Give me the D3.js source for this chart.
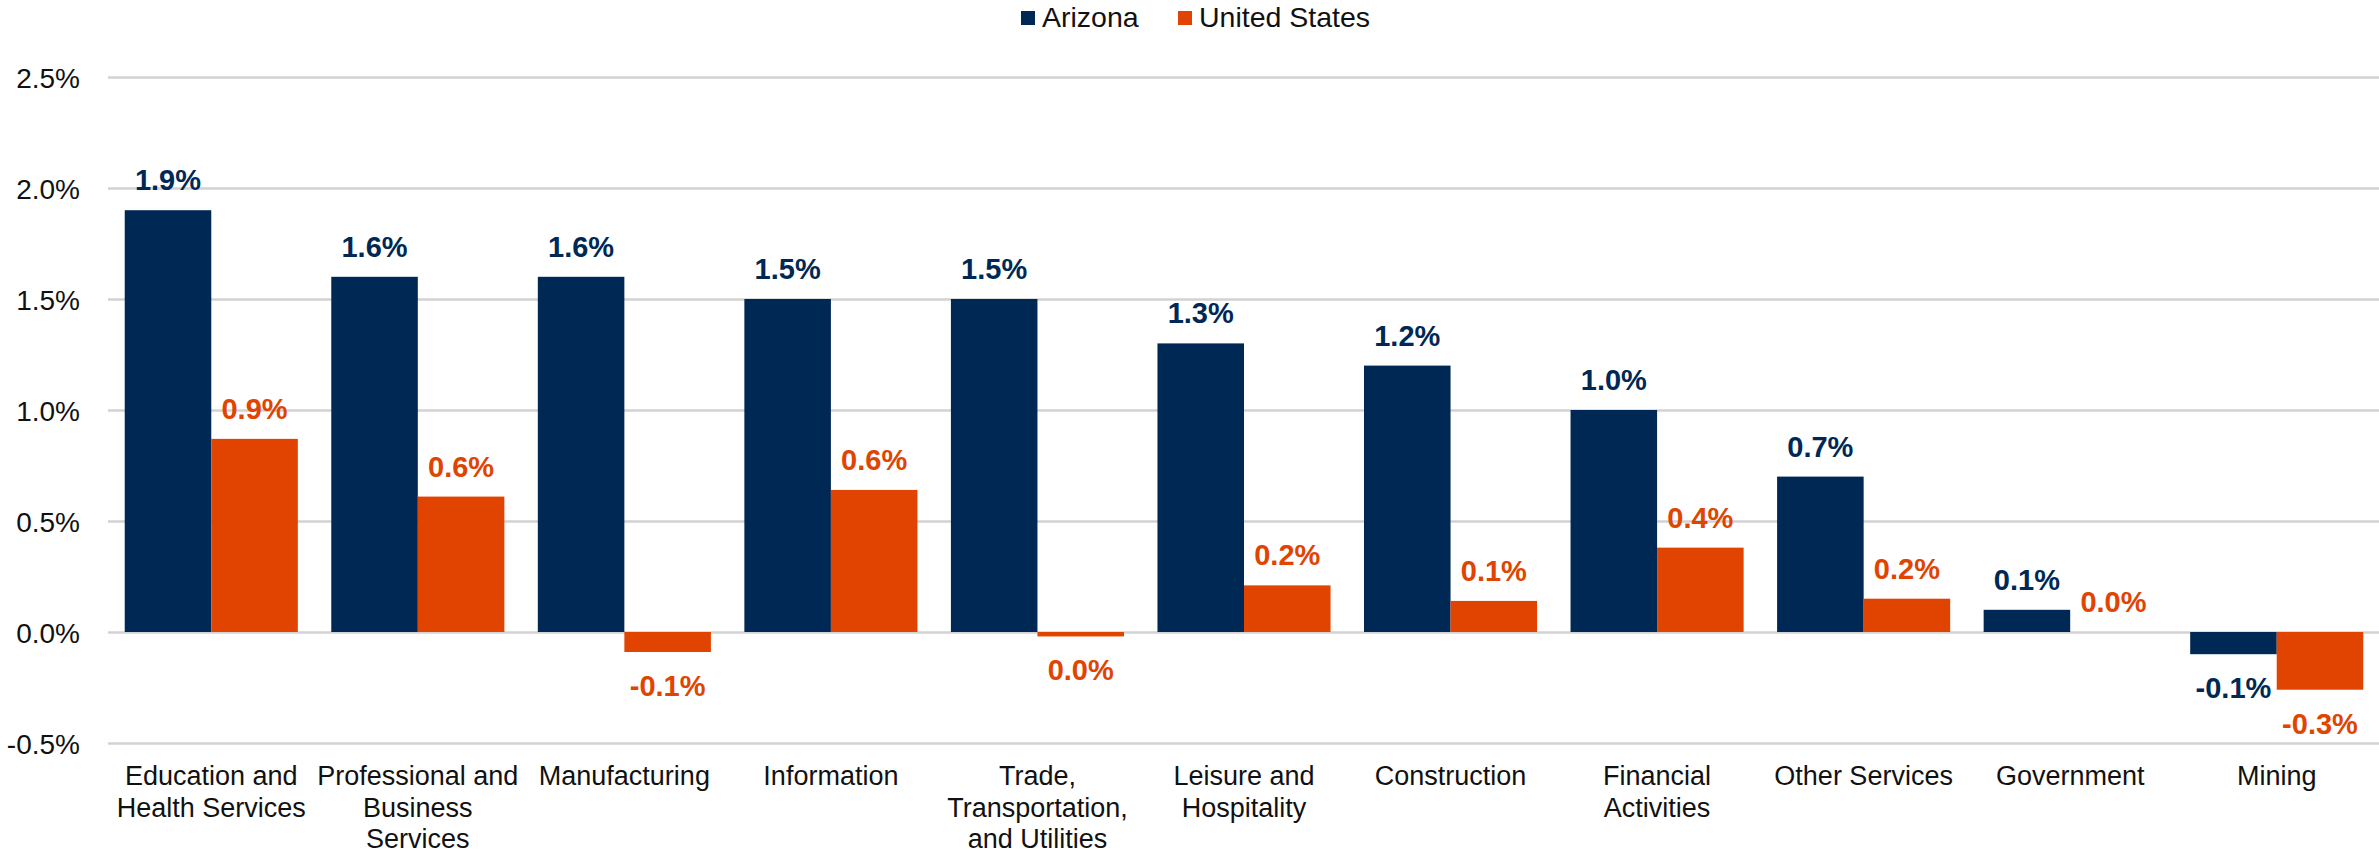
<!DOCTYPE html>
<html>
<head>
<meta charset="utf-8">
<script src="https://cdn.jsdelivr.net/npm/d3@7"></script>
<style>
  body { margin: 0; background: #fff; }
  svg { display: block; font-family: "Liberation Sans", Arial, sans-serif; }
</style>
</head>
<body>
<div id="chart-area"></div>
<script>
const WIDTH = 2379;
const HEIGHT = 850;

// data (percent change)
const categories = ["Education and Health Services", "Professional and Business Services", "Manufacturing",
  "Information", "Trade, Transportation, and Utilities", "Leisure and Hospitality", "Construction",
  "Financial Activities", "Other Services", "Government", "Mining"];
const arizona = [1.9, 1.6, 1.6, 1.5, 1.5, 1.3, 1.2, 1.0, 0.7, 0.1, -0.1];
const unitedStates = [0.87, 0.61, -0.09, 0.64, -0.02, 0.21, 0.14, 0.38, 0.15, 0.0, -0.26];
const seriesNames = ["Arizona", "United States"];
const colors = ["#002855", "#E04400"];
const yTicks = [-0.5, 0, 0.5, 1.0, 1.5, 2.0, 2.5];

const svg = d3.select("#chart-area").append("svg")
  .attr("width", WIDTH)
  .attr("height", HEIGHT);

const margin = {top: 77, right: 0, bottom: 107, left: 108};

// scales
const x = d3.scaleBand()
  .domain(categories)
  .range([margin.left, 2380])
  .paddingInner(0.162)
  .paddingOuter(0.081);

const x1 = d3.scaleBand()
  .domain(seriesNames)
  .range([0, x.bandwidth()]);

const y = d3.scaleLinear()
  .domain([-0.5, 2.5])
  .range([HEIGHT - margin.bottom, margin.top]);

const pct = v => {
  let s = (Math.round(v * 10) / 10).toFixed(1);
  if (s === "-0.0") s = "0.0";
  return s + "%";
};

// gridlines + y labels
const yAxis = d3.axisLeft(y)
  .tickValues(yTicks)
  .tickSize(-(WIDTH - margin.left))
  .tickPadding(28)
  .tickFormat(pct);

const yAxisGroup = svg.append("g")
  .attr("transform", `translate(${margin.left}, 0)`)
  .call(yAxis);

yAxisGroup.select(".domain").remove();
yAxisGroup.selectAll("line")
  .attr("stroke", "#d2d2d2")
  .attr("stroke-width", 2.5);
yAxisGroup.selectAll("text")
  .attr("font-size", "28px")
  .attr("font-family", "Liberation Sans, Arial, sans-serif")
  .attr("fill", "#111")
  .attr("dy", "0.36em");

// bars
const rows = categories.map((c, i) => ({cat: c, values: [arizona[i], unitedStates[i]]}));

const groups = svg.selectAll(".grp")
  .data(rows)
  .enter().append("g")
  .attr("class", "grp")
  .attr("transform", d => `translate(${x(d.cat)}, 0)`);

groups.selectAll("rect")
  .data(d => d.values.map((v, j) => ({v, name: seriesNames[j], j})))
  .enter().append("rect")
  .attr("x", d => x1(d.name))
  .attr("width", x1.bandwidth())
  .attr("y", d => y(Math.max(0, d.v)))
  .attr("height", d => Math.abs(y(d.v) - y(0)))
  .attr("fill", d => colors[d.j]);

// value labels
groups.selectAll(".val")
  .data(d => d.values.map((v, j) => ({v, name: seriesNames[j], j})))
  .enter().append("text")
  .attr("class", "val")
  .attr("x", d => x1(d.name) + x1.bandwidth() / 2)
  .attr("y", d => d.v >= 0 ? y(d.v) - 20 : y(d.v) + 44)
  .attr("text-anchor", "middle")
  .attr("font-size", "29px")
  .attr("font-weight", "bold")
  .attr("fill", d => colors[d.j])
  .text(d => pct(d.v));

// category labels, wrapped like Excel
const xLabels = svg.selectAll(".cat")
  .data(categories)
  .enter().append("text")
  .attr("class", "cat")
  .attr("x", d => x(d) + x.bandwidth() / 2)
  .attr("y", 785)
  .attr("text-anchor", "middle")
  .attr("font-size", "27px")
  .attr("fill", "#111");

xLabels.each(function(d) {
  const text = d3.select(this);
  const words = d.split(" ");
  let line = [];
  let tspan = text.append("tspan").attr("x", text.attr("x")).attr("dy", 0);
  words.forEach(w => {
    line.push(w);
    tspan.text(line.join(" "));
    if (tspan.node().getComputedTextLength() > 208 && line.length > 1) {
      line.pop();
      tspan.text(line.join(" "));
      line = [w];
      tspan = text.append("tspan").attr("x", text.attr("x")).attr("dy", 31.5).text(w);
    }
  });
});

// legend
const legendX = [1021, 1178];
const legend = svg.selectAll(".legend")
  .data(seriesNames)
  .enter().append("g")
  .attr("class", "legend")
  .attr("transform", (d, i) => `translate(${legendX[i]}, 11)`);

legend.append("rect")
  .attr("width", 14)
  .attr("height", 14)
  .attr("fill", (d, i) => colors[i]);

legend.append("text")
  .attr("x", 21)
  .attr("y", 15.5)
  .attr("font-size", "28.5px")
  .attr("fill", "#111")
  .text(d => d);
</script>
</body>
</html>
